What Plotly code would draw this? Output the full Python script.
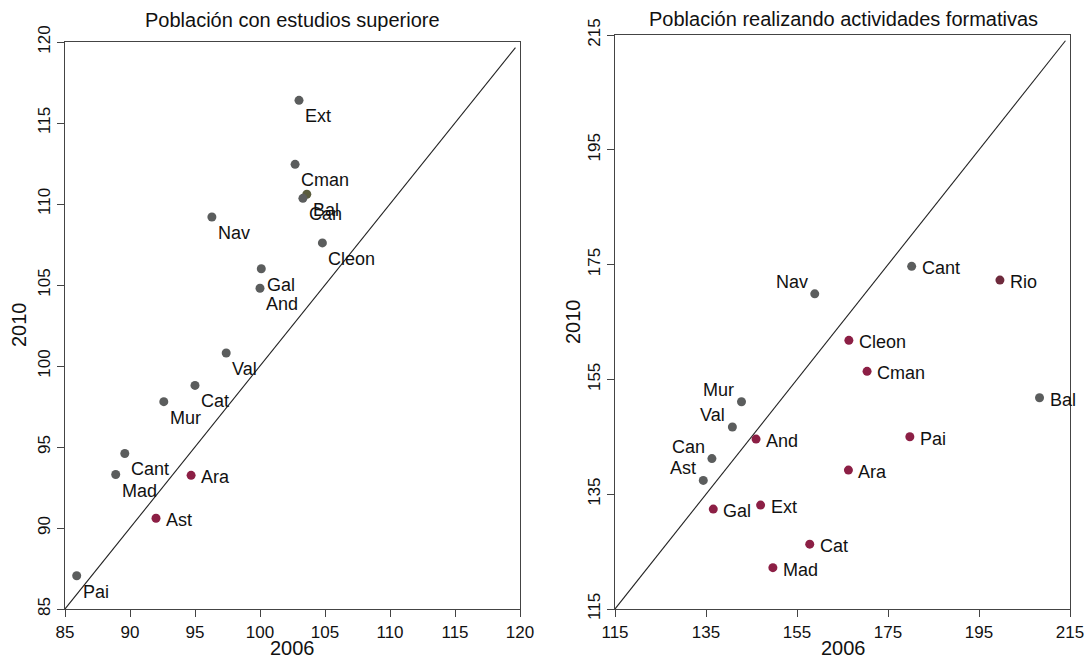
import plotly.graph_objects as go

W, H = 1089, 660

# ---------------- data ----------------
left_names = ["Ext", "Cman", "Bal", "Can", "Nav", "Cleon", "Gal", "And", "Val",
              "Cat", "Mur", "Cant", "Mad", "Ara", "Ast", "Pai"]
left_2006 = [103.0, 102.7, 103.6, 103.3, 96.3, 104.8, 100.1, 100.0, 97.4,
             95.0, 92.6, 89.6, 88.9, 94.7, 92.0, 85.9]
left_2010 = [116.4, 112.45, 110.6, 110.35, 109.2, 107.6, 106.0, 104.8, 100.8,
             98.8, 97.8, 94.6, 93.3, 93.25, 90.6, 87.05]
left_group = ["g", "g", "o", "g", "g", "g", "g", "g", "g",
              "g", "g", "g", "g", "r", "r", "g"]

right_names = ["Cant", "Rio", "Nav", "Cleon", "Cman", "Bal", "Mur", "Val", "And",
               "Pai", "Can", "Ara", "Ast", "Gal", "Ext", "Cat", "Mad"]
right_2006 = [180.2, 199.6, 158.9, 166.4, 170.4, 208.3, 142.8, 140.8, 146.0,
              179.8, 136.3, 166.3, 134.4, 136.6, 147.0, 157.8, 149.7]
right_2010 = [174.7, 172.3, 169.9, 161.8, 156.4, 151.8, 151.1, 146.7, 144.6,
              145.0, 141.2, 139.2, 137.4, 132.4, 133.1, 126.3, 122.2]
right_group = ["g", "d", "g", "r", "r", "g", "g", "g", "r",
               "r", "g", "r", "g", "r", "r", "r", "r"]

left_ticks = [85, 90, 95, 100, 105, 110, 115, 120]
right_ticks = [115, 135, 155, 175, 195, 215]

left_title = "Población con estudios superiore"
right_title = "Población realizando actividades formativas"
x_title = "2006"
y_title = "2010"

# ---------------- style ----------------
FONT = "Liberation Sans, Arial, Helvetica, sans-serif"
TXT = "#111111"
AX = "#444444"
colors = {"g": "#5b5d5d", "o": "#5a5c3e", "r": "#8c1f45", "d": "#6e2a3c"}

# label placement per point (style)
left_place = ["br" if g != "r" else "r" for g in left_group]
right_place = ["tl" if n in ("Nav", "Mur", "Val", "Can", "Ast") else "r" for n in right_names]
shift = {"br": ("left", 4, -16), "r": ("left", 8, -2), "tl": ("right", -5, 12)}

fig = go.Figure()

panels = [
    (left_names, left_2006, left_2010, left_group, left_place, left_ticks, "x", "y"),
    (right_names, right_2006, right_2010, right_group, right_place, right_ticks, "x2", "y2"),
]

annotations = []
for names, xs, ys, groups, places, ticks, xa, ya in panels:
    lo, hi = ticks[0], ticks[-1]
    end = hi - 0.01 * (hi - lo)
    fig.add_trace(go.Scatter(x=[lo, end], y=[lo, end], mode="lines",
                             line=dict(color="#222222", width=1.1),
                             xaxis=xa, yaxis=ya, hoverinfo="skip", showlegend=False))
    fig.add_trace(go.Scatter(x=xs, y=ys, mode="markers",
                             marker=dict(size=9, color=[colors[g] for g in groups]),
                             text=names, xaxis=xa, yaxis=ya, showlegend=False,
                             cliponaxis=False))
    for n, x, y, p in zip(names, xs, ys, places):
        anchor, dx, dy = shift[p]
        annotations.append(dict(x=x, y=y, xref=xa, yref=ya, text=n, showarrow=False,
                                xanchor=anchor, yanchor="middle", xshift=dx, yshift=dy,
                                font=dict(size=18, color=TXT, family=FONT)))

def px(xp):
    return xp / W

def py(yp):
    return 1 - yp / H

# titles
annotations += [
    dict(x=px(292), y=py(20), xref="paper", yref="paper", text=left_title, showarrow=False,
         xanchor="center", yanchor="middle", font=dict(size=20, color=TXT, family=FONT)),
    dict(x=px(843), y=py(19), xref="paper", yref="paper", text=right_title, showarrow=False,
         xanchor="center", yanchor="middle", font=dict(size=20, color=TXT, family=FONT)),
    dict(x=px(292), y=py(648), xref="paper", yref="paper", text=x_title, showarrow=False,
         xanchor="center", yanchor="middle", font=dict(size=20, color=TXT, family=FONT)),
    dict(x=px(843), y=py(648), xref="paper", yref="paper", text=x_title, showarrow=False,
         xanchor="center", yanchor="middle", font=dict(size=20, color=TXT, family=FONT)),
    dict(x=px(19), y=py(325), xref="paper", yref="paper", text=y_title, showarrow=False,
         textangle=-90, xanchor="center", yanchor="middle",
         font=dict(size=20, color=TXT, family=FONT)),
    dict(x=px(573), y=py(322), xref="paper", yref="paper", text=y_title, showarrow=False,
         textangle=-90, xanchor="center", yanchor="middle",
         font=dict(size=20, color=TXT, family=FONT)),
]

def axis(ticks, domain, anchor, rot=False):
    d = dict(range=[ticks[0], ticks[-1]], tickvals=ticks, ticktext=[str(t) for t in ticks],
             domain=domain, anchor=anchor, showline=True, mirror=True, automargin=False,
             linecolor=AX, linewidth=1.2, ticks="outside", ticklen=7, tickcolor=AX,
             tickwidth=1.2, showgrid=False, zeroline=False,
             tickfont=dict(size=17, color=TXT, family=FONT))
    if rot:
        d["tickangle"] = -90
    return d

fig.update_layout(
    width=W, height=H,
    margin=dict(l=0, r=0, t=0, b=0, autoexpand=False),
    paper_bgcolor="white", plot_bgcolor="white",
    xaxis=axis(left_ticks, [65 / W, 520 / W], "y"),
    yaxis=axis(left_ticks, [1 - 609 / H, 1 - 42 / H], "x", rot=True),
    xaxis2=axis(right_ticks, [615 / W, 1070 / W], "y2"),
    yaxis2=axis(right_ticks, [1 - 609 / H, 1 - 35 / H], "x2", rot=True),
    annotations=annotations,
    showlegend=False,
)

fig.write_html("out.html")
